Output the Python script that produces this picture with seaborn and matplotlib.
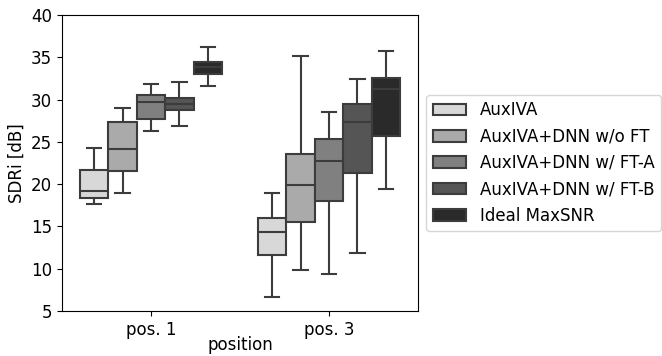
import numpy as np
import pandas as pd
import seaborn as sns
import matplotlib.pyplot as plt

# five-number summaries: [min, Q1, median, Q3, max]
positions = ['pos. 1', 'pos. 3']
methods = ['AuxIVA', 'AuxIVA+DNN w/o FT', 'AuxIVA+DNN w/ FT-A',
           'AuxIVA+DNN w/ FT-B', 'Ideal MaxSNR']

auxiva_p1 = [17.6, 18.4, 19.2, 21.7, 24.3]
wofi_p1 = [19.0, 21.6, 24.1, 27.4, 29.0]
fta_p1 = [26.3, 27.7, 29.7, 30.5, 31.9]
ftb_p1 = [26.9, 28.8, 29.5, 30.2, 32.1]
ideal_p1 = [31.6, 33.0, 33.9, 34.5, 36.2]

auxiva_p3 = [6.6, 11.6, 14.4, 16.0, 19.0]
wofi_p3 = [9.8, 15.5, 19.9, 23.6, 35.1]
fta_p3 = [9.4, 18.0, 22.7, 25.3, 28.5]
ftb_p3 = [11.9, 21.3, 27.4, 29.5, 32.4]
ideal_p3 = [19.4, 25.7, 31.3, 32.6, 35.8]

colors = ['#d8d8d8', '#aaaaaa', '#808080', '#555555', '#2a2a2a']

summaries = {
    'pos. 1': [auxiva_p1, wofi_p1, fta_p1, ftb_p1, ideal_p1],
    'pos. 3': [auxiva_p3, wofi_p3, fta_p3, ftb_p3, ideal_p3],
}

rows = []
for pos in positions:
    for m, vals in zip(methods, summaries[pos]):
        for v in vals:
            rows.append({'position': pos, 'method': m, 'SDRi': v})
df = pd.DataFrame(rows)

plt.rcParams['font.size'] = 12

fig, ax = plt.subplots(figsize=(6.62, 3.56), dpi=100)
fig.subplots_adjust(left=62 / 662, right=418 / 662, top=1 - 15 / 356, bottom=1 - 311 / 356)

sns.boxplot(data=df, x='position', y='SDRi', hue='method', order=positions,
            hue_order=methods, palette=colors, whis=np.inf, width=0.8,
            linecolor='#3c3c3c', linewidth=1.5, ax=ax)

ax.set_ylim(5, 40)
ax.set_xlabel('position', labelpad=-2)
ax.set_ylabel('SDRi [dB]')
ax.legend(loc='center left', bbox_to_anchor=(1.0, 0.5), fontsize=12)

plt.savefig('out.png')
